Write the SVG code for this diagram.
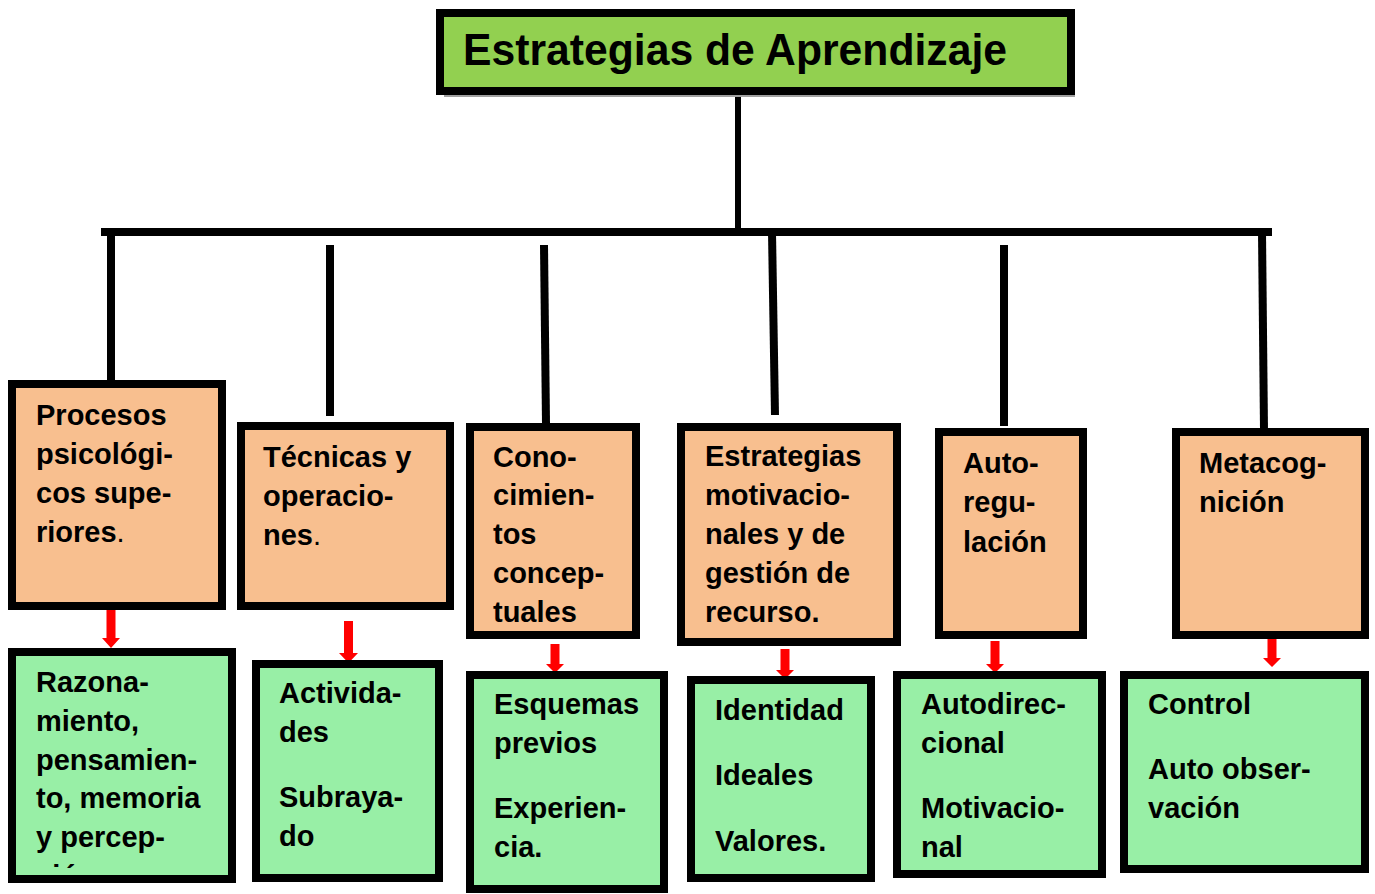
<svg xmlns="http://www.w3.org/2000/svg" width="1375" height="894" viewBox="0 0 1375 894">
<defs>
<style>
.box{stroke:#000;stroke-width:8}
.or{fill:#F8BF8F}
.gr{fill:#98EFA6}
.t{font-family:"Liberation Sans",Arial,sans-serif;font-weight:bold;font-size:29px;fill:#000}
.ln{stroke:#000;stroke-width:8;fill:none}
.ar{fill:#FF0000}
.n{font-weight:normal}
</style>
<clipPath id="clipG1"><rect x="16" y="656" width="212" height="212"/></clipPath>
</defs>
<rect width="1375" height="894" fill="#fff"/>

<g id="connectors">
<line class="ln" x1="738" y1="95" x2="738" y2="232" style="stroke-width:6"/>
<line class="ln" x1="101" y1="232" x2="1272" y2="232"/>
<line class="ln" x1="111" y1="232" x2="111" y2="381"/>
<line class="ln" x1="330" y1="245" x2="330" y2="416"/>
<line class="ln" x1="544" y1="245" x2="546" y2="423"/>
<line class="ln" x1="772" y1="232" x2="775" y2="415"/>
<line class="ln" x1="1004" y1="245" x2="1004" y2="426"/>
<line class="ln" x1="1262" y1="232" x2="1264" y2="430"/>
<polygon class="ar" points="106.5,607 115.5,607 115.5,638 120,638 111,648 102,638 106.5,638"/>
<polygon class="ar" points="344,621 353,621 353,653 358,653 348.5,663 339,653 344,653"/>
<polygon class="ar" points="550.5,644 559.5,644 559.5,664 564,664 555,673 546,664 550.5,664"/>
<polygon class="ar" points="780.5,649 789.5,649 789.5,670 794,670 785,679 776,670 780.5,670"/>
<polygon class="ar" points="990.5,641 999.5,641 999.5,664 1004,664 995,673 986,664 990.5,664"/>
<polygon class="ar" points="1267.5,635 1276.5,635 1276.5,658 1281,658 1272,667 1263,658 1267.5,658"/>
</g>

<g id="title">
<rect x="444" y="17" width="631" height="80" fill="#A0A0A0"/>
<rect class="box" x="440" y="13" width="631" height="78" fill="#92D050"/>
<text x="463" y="65" font-family="'Liberation Sans',Arial,sans-serif" font-weight="bold" font-size="44" textLength="544" lengthAdjust="spacingAndGlyphs">Estrategias de Aprendizaje</text>
</g>

<g id="procesos">
<rect x="16" y="388" width="210" height="222" fill="#8C9CB0"/>
<rect class="box or" x="12" y="384" width="210" height="222"/>
<text class="t"><tspan x="36" y="425">Procesos</tspan><tspan x="36" y="464">psicológi-</tspan><tspan x="36" y="503">cos supe-</tspan><tspan x="36" y="542">riores<tspan class="n">.</tspan></tspan></text>
</g>

<g id="tecnicas">
<rect x="245" y="430" width="209" height="180" fill="#B09494"/>
<rect class="box or" x="241" y="426" width="209" height="180"/>
<text class="t"><tspan x="263" y="467">Técnicas y</tspan><tspan x="263" y="506">operacio-</tspan><tspan x="263" y="545">nes<tspan class="n">.</tspan></tspan></text>
</g>

<g id="conocimientos">
<rect x="474" y="431" width="166" height="208" fill="#A8B098"/>
<rect class="box or" x="470" y="427" width="166" height="208"/>
<text class="t"><tspan x="493" y="467">Cono-</tspan><tspan x="493" y="505">cimien-</tspan><tspan x="493" y="544">tos</tspan><tspan x="493" y="583">concep-</tspan><tspan x="493" y="622">tuales</tspan></text>
</g>

<g id="motivacionales">
<rect x="685" y="431" width="216" height="215" fill="#A8B098"/>
<rect class="box or" x="681" y="427" width="216" height="215"/>
<text class="t"><tspan x="705" y="466">Estrategias</tspan><tspan x="705" y="505">motivacio-</tspan><tspan x="705" y="544">nales y de</tspan><tspan x="705" y="583">gestión de</tspan><tspan x="705" y="622">recurso.</tspan></text>
</g>

<g id="autorregulacion">
<rect x="943" y="436" width="144" height="203" fill="#90A8B4"/>
<rect class="box or" x="939" y="432" width="144" height="203"/>
<text class="t"><tspan x="963" y="473">Auto-</tspan><tspan x="963" y="512">regu-</tspan><tspan x="963" y="552">lación</tspan></text>
</g>

<g id="metacognicion">
<rect x="1180" y="436" width="189" height="203" fill="#A8A0B4"/>
<rect class="box or" x="1176" y="432" width="189" height="203"/>
<text class="t"><tspan x="1199" y="473">Metacog-</tspan><tspan x="1199" y="512">nición</tspan></text>
</g>

<g id="razonamiento">
<rect x="16" y="656" width="220" height="227" fill="#98A8B8"/>
<rect class="box gr" x="12" y="652" width="220" height="227"/>
<g clip-path="url(#clipG1)">
<text class="t"><tspan x="36" y="692">Razona-</tspan><tspan x="36" y="731">miento,</tspan><tspan x="36" y="770">pensamien-</tspan><tspan x="36" y="808">to, memoria</tspan><tspan x="36" y="847">y percep-</tspan><tspan x="36" y="886">ción.</tspan></text>
</g>
</g>

<g id="actividades">
<rect x="260" y="668" width="183" height="214" fill="#A8A890"/>
<rect class="box gr" x="256" y="664" width="183" height="214"/>
<text class="t"><tspan x="279" y="703">Activida-</tspan><tspan x="279" y="742">des</tspan><tspan x="279" y="807">Subraya-</tspan><tspan x="279" y="846">do</tspan></text>
</g>

<g id="esquemas">
<rect x="474" y="679" width="194" height="214" fill="#A8A890"/>
<rect class="box gr" x="470" y="675" width="194" height="214"/>
<text class="t"><tspan x="494" y="714">Esquemas</tspan><tspan x="494" y="753">previos</tspan><tspan x="494" y="818">Experien-</tspan><tspan x="494" y="857">cia.</tspan></text>
</g>

<g id="identidad">
<rect x="695" y="684" width="180" height="198" fill="#98A8B8"/>
<rect class="box gr" x="691" y="680" width="180" height="198"/>
<text class="t"><tspan x="715" y="720">Identidad</tspan><tspan x="715" y="785">Ideales</tspan><tspan x="715" y="851">Valores.</tspan></text>
</g>

<g id="autodireccional">
<rect x="901" y="679" width="205" height="199" fill="#A8A890"/>
<rect class="box gr" x="897" y="675" width="205" height="199"/>
<text class="t"><tspan x="921" y="714">Autodirec-</tspan><tspan x="921" y="753">cional</tspan><tspan x="921" y="818">Motivacio-</tspan><tspan x="921" y="857">nal</tspan></text>
</g>

<g id="control">
<rect x="1128" y="679" width="241" height="194" fill="#98A8B8"/>
<rect class="box gr" x="1124" y="675" width="241" height="194"/>
<text class="t"><tspan x="1148" y="714">Control</tspan><tspan x="1148" y="779">Auto obser-</tspan><tspan x="1148" y="818">vación</tspan></text>
</g>
</svg>
